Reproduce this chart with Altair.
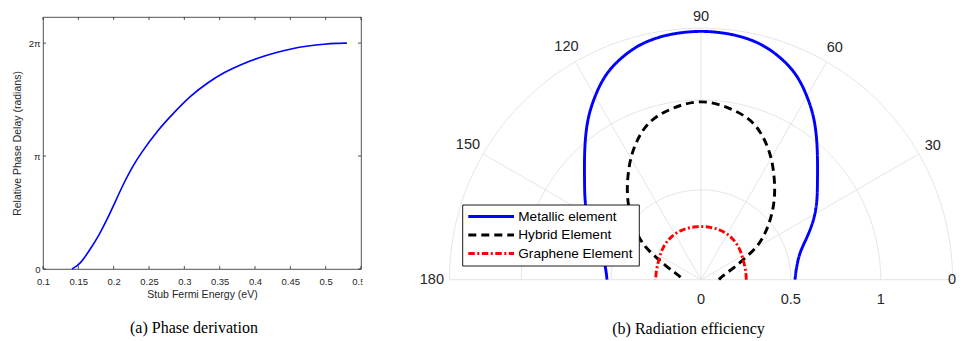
import altair as alt
import pandas as pd

# ---------------- panel (a): phase delay vs stub Fermi energy ----------------
energy_ev = [0.141, 0.153, 0.167, 0.179, 0.191, 0.203, 0.215, 0.226, 0.238, 0.262, 0.286,
             0.309, 0.333, 0.357, 0.380, 0.404, 0.428, 0.451, 0.475, 0.499, 0.515, 0.530]
phase_pi = [0.0, 0.044, 0.177, 0.296, 0.443, 0.606, 0.769, 0.900, 1.020, 1.227, 1.389,
            1.535, 1.650, 1.744, 1.810, 1.868, 1.913, 1.950, 1.975, 1.992, 1.998, 2.0]
x_tick_values = [0.1, 0.15, 0.2, 0.25, 0.3, 0.35, 0.4, 0.45, 0.5, 0.55]
y_tick_values = [0, 1, 2]
y_tick_labels = ["0", "π", "2π"]

# ---------------- panel (b): radiation pattern (polar) ----------------
angle_deg = [0, 5, 10, 15, 20, 25, 30, 35, 40, 45, 50, 55, 60, 65, 70, 75, 80, 85, 90,
             95, 100, 105, 110, 115, 120, 125, 130, 135, 140, 145, 150, 155, 160, 165, 170, 175, 180]
metallic = [0.523, 0.530, 0.545, 0.568, 0.615, 0.675, 0.735, 0.790, 0.846, 0.918, 1.005, 1.100,
            1.182, 1.262, 1.312, 1.352, 1.372, 1.381, 1.385,
            1.381, 1.372, 1.352, 1.312, 1.262, 1.182, 1.100, 1.005, 0.918, 0.846, 0.790, 0.735,
            0.675, 0.615, 0.568, 0.545, 0.530, 0.523]
hybrid = [0.100, 0.108, 0.125, 0.150, 0.195, 0.255, 0.360, 0.430, 0.500, 0.571, 0.641, 0.710,
          0.785, 0.850, 0.910, 0.945, 0.965, 0.985, 0.994,
          0.985, 0.965, 0.945, 0.910, 0.850, 0.785, 0.710, 0.641, 0.571, 0.500, 0.430, 0.360,
          0.255, 0.195, 0.150, 0.125, 0.108, 0.100]
graphene = [0.252, 0.252, 0.253, 0.254, 0.256, 0.259, 0.264, 0.270, 0.276, 0.281, 0.286, 0.290,
            0.293, 0.295, 0.296, 0.296, 0.296, 0.296, 0.296,
            0.296, 0.296, 0.296, 0.296, 0.295, 0.293, 0.290, 0.286, 0.281, 0.276, 0.270, 0.264,
            0.259, 0.256, 0.254, 0.253, 0.252, 0.252]
series_names = ["Metallic element", "Hybrid Element", "Graphene Element"]
series_colors = ["#0000ff", "#000000", "#ff0000"]
series_dashes = [[1, 0], [8, 5], [6.5, 2.5, 2, 2.5]]

ring_radii = [0.5, 1.0, 1.4]
spoke_angles = [0, 30, 60, 90, 120, 150, 180]
spoke_labels = ["0", "30", "60", "90", "120", "150", "180"]
radial_ticks = [0, 0.5, 1]
radial_labels = ["0", "0.5", "1"]

TXT = "#262626"
GRID = "#e2e2e2"
FONT = "Liberation Sans"

# ======================= panel (a) =======================
W_A, H_A = 318, 252
left_df = pd.DataFrame({"energy": energy_ev, "phase": phase_pi})
xtick_df = pd.DataFrame({"energy": x_tick_values})
ytick_df = pd.DataFrame({"phase": y_tick_values})

lab_expr = "'" + y_tick_labels[-1] + "'"
for v, l in reversed(list(zip(y_tick_values[:-1], y_tick_labels[:-1]))):
    lab_expr = f"datum.value == {v} ? '{l}' : {lab_expr}"

x_enc = alt.X(
    "energy:Q",
    scale=alt.Scale(domain=[0.1, 0.55], nice=False, zero=False),
    axis=alt.Axis(values=x_tick_values, format=".2~f", labelFlush=False, labelOverlap=False,
                  domain=False, ticks=False, grid=False, labelFont=FONT, labelFontSize=9.5,
                  labelColor=TXT, labelPadding=7, title="Stub Fermi Energy (eV)",
                  titleFont=FONT, titleFontSize=10.5, titleFontWeight="normal",
                  titleColor=TXT, titlePadding=4),
)
y_enc = alt.Y(
    "phase:Q",
    scale=alt.Scale(domain=[0, 2.231], nice=False, zero=False),
    axis=alt.Axis(values=y_tick_values, labelExpr=lab_expr, domain=False, ticks=False,
                  grid=False, labelFont=FONT, labelFontSize=9.5, labelColor=TXT,
                  labelPadding=3, title="Relative Phase Delay (radians)", titleFont=FONT,
                  titleFontSize=10.5, titleFontWeight="normal", titleColor=TXT,
                  titlePadding=6),
)

curve_a = alt.Chart(left_df).mark_line(color="#0000ff", strokeWidth=1.6,
                                        interpolate="basis").encode(x=x_enc, y=y_enc)
tick_b = alt.Chart(xtick_df).mark_rule(color=TXT, strokeWidth=0.8).encode(
    x=x_enc, y=alt.value(H_A), y2=alt.value(H_A - 3))
tick_t = alt.Chart(xtick_df).mark_rule(color=TXT, strokeWidth=0.8).encode(
    x=x_enc, y=alt.value(0), y2=alt.value(3))
tick_l = alt.Chart(ytick_df).mark_rule(color=TXT, strokeWidth=0.8).encode(
    y=y_enc, x=alt.value(0), x2=alt.value(3))
tick_r = alt.Chart(ytick_df).mark_rule(color=TXT, strokeWidth=0.8).encode(
    y=y_enc, x=alt.value(W_A), x2=alt.value(W_A - 3))

left = alt.layer(curve_a, tick_b, tick_t, tick_l, tick_r).properties(
    width=W_A, height=H_A,
    view=alt.ViewBackground(stroke=TXT, strokeWidth=0.8),
    title=alt.TitleParams(text="(a) Phase derivation", orient="bottom", anchor="middle",
                          frame="group", font="Liberation Serif", fontSize=16,
                          fontWeight="normal", color="black", offset=20, dx=-8),
)

# ======================= panel (b) =======================
W_B, H_B = 595, 290
xs = alt.Scale(domain=[-1.8865, 1.4246], nice=False, zero=False)
ys = alt.Scale(domain=[-0.152, 1.462], nice=False, zero=False)

rows = []
for name, rs in zip(series_names, [metallic, hybrid, graphene]):
    for a, r in zip(angle_deg, rs):
        rows.append({"series": name, "angle": a, "r": r})
polar_df = pd.DataFrame(rows)

ring_rows = [{"ring": rr, "angle": a} for rr in ring_radii for a in range(0, 181, 2)]
ring_df = pd.DataFrame(ring_rows)
spoke_df = pd.DataFrame({"angle": spoke_angles, "label": spoke_labels})
radial_df = pd.DataFrame({"value": radial_ticks, "label": radial_labels})
R_OUT = ring_radii[-1]

rings = alt.Chart(ring_df).transform_calculate(
    px="datum.ring * cos(datum.angle * PI / 180)",
    py="datum.ring * sin(datum.angle * PI / 180)",
).mark_line(color=GRID, strokeWidth=0.9).encode(
    x=alt.X("px:Q", scale=xs, axis=None), y=alt.Y("py:Q", scale=ys, axis=None),
    detail="ring:N", order="angle:Q")

spokes = alt.Chart(spoke_df).transform_calculate(
    ox="0", oy="0",
    ex=f"{R_OUT} * cos(datum.angle * PI / 180)",
    ey=f"{R_OUT} * sin(datum.angle * PI / 180)",
).mark_rule(color=GRID, strokeWidth=0.9).encode(
    x=alt.X("ox:Q", scale=xs, axis=None), y=alt.Y("oy:Q", scale=ys, axis=None),
    x2="ex:Q", y2="ey:Q")

curves = alt.Chart(polar_df).transform_calculate(
    px="datum.r * cos(datum.angle * PI / 180)",
    py="datum.r * sin(datum.angle * PI / 180)",
).mark_line(strokeWidth=2.9, interpolate="basis").encode(
    x=alt.X("px:Q", scale=xs, axis=None), y=alt.Y("py:Q", scale=ys, axis=None),
    color=alt.Color("series:N", scale=alt.Scale(domain=series_names, range=series_colors),
                    legend=None),
    strokeDash=alt.StrokeDash("series:N",
                              scale=alt.Scale(domain=series_names, range=series_dashes),
                              legend=None),
    order="angle:Q")

# angle labels just outside the grid (wider labels sit a little further out);
# "0" is pulled inside the page edge
ang_labels = alt.Chart(spoke_df).transform_filter("datum.angle > 0").transform_calculate(
    lr="datum.angle == 90 ? 1.46 : 1.472 + 0.0085 * length(datum.label)",
).transform_calculate(
    lx="datum.lr * cos(datum.angle * PI / 180)",
    ly="datum.lr * sin(datum.angle * PI / 180)",
).mark_text(font=FONT, fontSize=14.5, color=TXT, align="center", baseline="middle").encode(
    x=alt.X("lx:Q", scale=xs, axis=None), y=alt.Y("ly:Q", scale=ys, axis=None),
    text="label:N")
ang_label0 = alt.Chart(spoke_df).transform_filter("datum.angle == 0").transform_calculate(
    lx="1.42", ly="0",
).mark_text(font=FONT, fontSize=14.5, color=TXT, align="right", baseline="middle").encode(
    x=alt.X("lx:Q", scale=xs, axis=None), y=alt.Y("ly:Q", scale=ys, axis=None),
    text="label:N")

rad_labels = alt.Chart(radial_df).transform_calculate(ry="-0.113").mark_text(
    font=FONT, fontSize=14.5, color=TXT, align="center", baseline="middle").encode(
    x=alt.X("value:Q", scale=xs, axis=None), y=alt.Y("ry:Q", scale=ys, axis=None),
    text="label:N")

# legend (drawn manually, pixel positions inside panel b)
one = pd.DataFrame({"k": [0]})
leg_box = alt.Chart(one).mark_rect(fill="white", stroke="black", strokeWidth=0.9).encode(
    x=alt.value(100.7), x2=alt.value(277.3), y=alt.value(188), y2=alt.value(249))
leg_layers = [leg_box]
for i, (name, col, dash) in enumerate(zip(series_names, series_colors, series_dashes)):
    yy = 199.5 + 18.5 * i
    d = pd.DataFrame({"series": [name]})
    leg_layers.append(alt.Chart(d).mark_rule(color=col, strokeWidth=2.8, strokeDash=dash).encode(
        x=alt.value(106.3), x2=alt.value(152), y=alt.value(yy)))
    leg_layers.append(alt.Chart(d).mark_text(font=FONT, fontSize=13.6, color="black",
                                             align="left", baseline="middle").encode(
        x=alt.value(156.3), y=alt.value(yy), text="series:N"))

right = alt.layer(rings, spokes, curves, ang_labels, ang_label0, rad_labels,
                  *leg_layers).properties(
    width=W_B, height=H_B,
    view=alt.ViewBackground(fill="white", stroke="transparent"),
    title=alt.TitleParams(text="(b) Radiation efficiency", orient="bottom", anchor="middle",
                          frame="group", font="Liberation Serif", fontSize=16,
                          fontWeight="normal", color="black", offset=14, dx=29),
)

chart = alt.hconcat(left, right, spacing=1, bounds="flush").properties(
    padding={"left": 3, "top": 0, "right": 0, "bottom": 0}
).configure(font=FONT)

chart.save("out.html", embed_options={"renderer": "svg", "actions": False})
